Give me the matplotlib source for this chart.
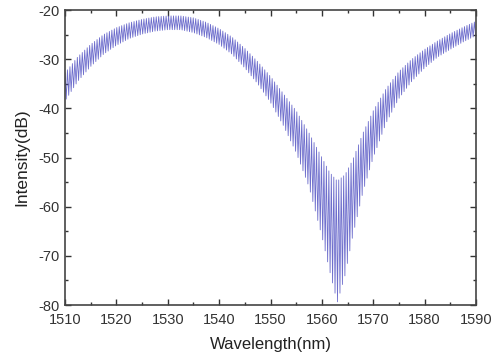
import numpy as np
import matplotlib
matplotlib.use("Agg")
import matplotlib.pyplot as plt
from matplotlib.ticker import MultipleLocator

# Envelope of the fringe pattern (nm, dB)
wl_knots = [1510, 1512.5, 1515, 1517.5, 1520, 1522.5, 1525, 1527.5, 1530, 1532.5,
            1535, 1537.5, 1540, 1542.5, 1545, 1547.5, 1550, 1552.5, 1555, 1557.5,
            1560, 1561.5, 1563, 1564.5, 1566, 1568, 1570, 1572.5, 1575, 1577.5,
            1580, 1582.5, 1585, 1587.5, 1590]
upper_db = [-32.8, -29.5, -27.0, -25.0, -23.6, -22.6, -21.9, -21.4, -21.2, -21.2,
            -21.6, -22.5, -23.8, -25.5, -27.8, -30.5, -33.5, -37.0, -40.5, -45.0,
            -50.0, -53.0, -54.8, -53.5, -50.5, -45.0, -40.5, -36.0, -32.5, -30.0,
            -28.0, -26.3, -24.8, -23.5, -22.3]
lower_db = [-38.5, -34.5, -31.5, -29.0, -27.2, -25.8, -24.9, -24.3, -24.0, -24.0,
            -24.6, -25.6, -27.0, -29.0, -31.8, -35.0, -38.8, -43.5, -49.0, -56.0,
            -66.0, -73.0, -79.5, -74.0, -66.0, -57.0, -50.0, -43.0, -38.0, -34.5,
            -31.8, -29.6, -28.0, -26.5, -25.2]
fringe_period_nm = 0.48

xticks = [1510, 1520, 1530, 1540, 1550, 1560, 1570, 1580, 1590]
yticks = [-80, -70, -60, -50, -40, -30, -20]

# Alternating peaks/troughs of the fringes
half = fringe_period_nm / 2
wl = np.arange(1510, 1590 + 1e-9, half)
up = np.interp(wl, wl_knots, upper_db)
lo = np.interp(wl, wl_knots, lower_db)
vals = np.where(np.arange(len(wl)) % 2 == 0, up, lo)

plt.rcParams['font.family'] = ['Liberation Sans', 'DejaVu Sans']
plt.rcParams['axes.unicode_minus'] = False
fig = plt.figure(figsize=(4.95, 3.56), dpi=100)
ax = fig.add_axes([65/495, 1-305/356, (476-65)/495, (305-10)/356])
ax.plot(wl, vals, color='#4a4ac0', lw=0.6, alpha=0.8)

ax.set_xlim(1510, 1590)
ax.set_ylim(-80, -20)
ax.set_xticks(xticks)
ax.set_yticks(yticks)
ax.xaxis.set_minor_locator(MultipleLocator(5))
ax.yaxis.set_minor_locator(MultipleLocator(5))
ax.tick_params(which='both', direction='in', top=True, right=True,
               colors='#333333', labelsize=10.5, width=1.0)
ax.tick_params(which='major', length=4.5)
ax.tick_params(which='minor', length=2.5)
ax.tick_params(axis='x', which='major', pad=6)
ax.tick_params(axis='y', which='major', pad=4)
for s in ax.spines.values():
    s.set_color('#444444')
    s.set_linewidth(1.2)
ax.set_xlabel('Wavelength(nm)', fontsize=12, color='#222222')
ax.set_ylabel('Intensity(dB)', fontsize=12.5, color='#222222')
ax.xaxis.set_label_coords(0.5, -(344 - 305) / 295, transform=ax.transAxes)
ax.yaxis.set_label_coords((22 - 65) / 411, 0.5, transform=ax.transAxes)
ax.xaxis.label.set_va('center')
ax.yaxis.label.set_va('center')

fig.savefig('out.png', dpi=100)
